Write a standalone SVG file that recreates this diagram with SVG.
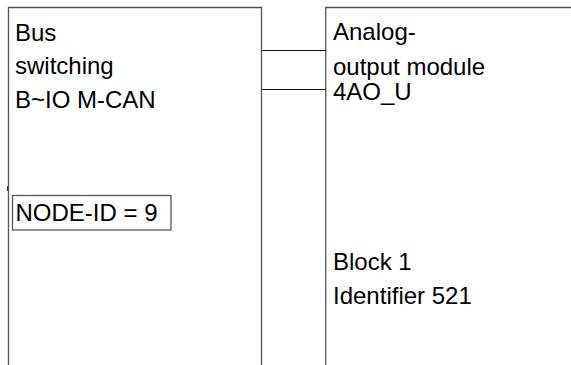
<svg xmlns="http://www.w3.org/2000/svg" width="571" height="365" viewBox="0 0 571 365">
<style>
.box{fill:none;stroke:#555;stroke-width:1.3}
.wire{fill:none;stroke:#111;stroke-width:1}
.t{font-family:"Liberation Sans",Arial,sans-serif;font-size:24px;fill:#000}
</style>
<rect width="571" height="365" fill="#fff"/>
<g id="bus-switching">
<path class="box" d="M8.5,366 V7.5 H261.5 V366"/>
<text class="t" x="15" y="40.5">Bus</text>
<text class="t" x="15" y="74">switching</text>
<text class="t" x="15" y="108">B~IO M-CAN</text>
<line x1="7.5" y1="186" x2="7.5" y2="191" stroke="#333" stroke-width="1"/>
</g>
<g id="node-id">
<rect class="box" x="12.5" y="195.5" width="158.5" height="34.5"/>
<text class="t" x="15.5" y="221">NODE-ID = 9</text>
</g>
<g id="analog-output-module">
<path class="box" d="M325.7,366 V7.5 H572"/>
<text class="t" x="333" y="39.5">Analog-</text>
<text class="t" x="333" y="75">output module</text>
<text class="t" x="333" y="100">4AO_U</text>
<text class="t" x="333" y="270">Block 1</text>
<text class="t" x="333" y="303.5">Identifier 521</text>
</g>
<g id="connectors">
<line class="wire" x1="261.5" y1="50.5" x2="325.7" y2="50.5"/>
<line class="wire" x1="261.5" y1="89.5" x2="325.7" y2="89.5"/>
</g>
</svg>
